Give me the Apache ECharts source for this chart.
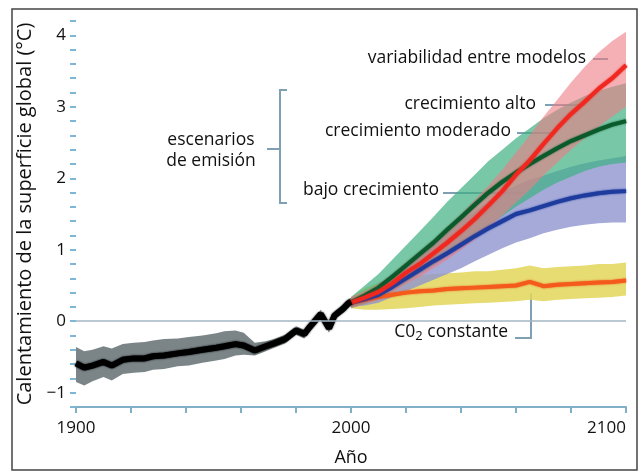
<!DOCTYPE html>
<html>
<head>
<meta charset="utf-8">
<script src="https://cdn.jsdelivr.net/npm/echarts@6/dist/echarts.min.js"></script>
<style>
  html, body { margin: 0; padding: 0; background: #fff; }
  #chart { width: 639px; height: 472px; }
</style>
</head>
<body>
<div id="chart"></div>
<script>
// observaciones 1900-2000
var histYears = [1900, 1903, 1906, 1910, 1913, 1917, 1921, 1925, 1928, 1932, 1937, 1941, 1946, 1951, 1954, 1958, 1961, 1965, 1969, 1972, 1976, 1980, 1983, 1985, 1987, 1989, 1992, 1994, 1997, 1999, 2000];
var histMean  = [-0.59, -0.65, -0.62, -0.57, -0.62, -0.54, -0.52, -0.52, -0.49, -0.48, -0.45, -0.43, -0.40, -0.37, -0.35, -0.32, -0.34, -0.41, -0.35, -0.31, -0.25, -0.13, -0.18, -0.08, 0.01, 0.10, -0.10, 0.08, 0.17, 0.25, 0.27];
var histHigh  = [-0.36, -0.42, -0.40, -0.35, -0.38, -0.32, -0.30, -0.29, -0.27, -0.25, -0.24, -0.22, -0.20, -0.17, -0.14, -0.13, -0.16, -0.30, -0.28, -0.25, -0.19, -0.07, -0.12, -0.02, 0.07, 0.16, -0.04, 0.14, 0.23, 0.31, 0.33];
var histLow   = [-0.85, -0.90, -0.84, -0.78, -0.83, -0.74, -0.72, -0.71, -0.68, -0.67, -0.63, -0.62, -0.58, -0.55, -0.53, -0.48, -0.47, -0.48, -0.42, -0.37, -0.31, -0.19, -0.24, -0.14, -0.05, 0.04, -0.16, 0.02, 0.11, 0.19, 0.21];

// escenarios 2000-2100
var scenYears = [2000, 2005, 2010, 2015, 2020, 2025, 2030, 2035, 2040, 2045, 2050, 2055, 2060, 2065, 2070, 2075, 2080, 2085, 2090, 2095, 2100];

var altoMean  = [0.26, 0.33, 0.41, 0.53, 0.68, 0.80, 0.95, 1.10, 1.26, 1.43, 1.62, 1.82, 2.05, 2.25, 2.48, 2.70, 2.90, 3.07, 3.25, 3.40, 3.58];
var altoLow   = [0.18, 0.24, 0.30, 0.40, 0.52, 0.62, 0.74, 0.86, 1.00, 1.14, 1.30, 1.48, 1.66, 1.84, 2.04, 2.22, 2.40, 2.56, 2.72, 2.86, 3.00];
var altoHigh  = [0.34, 0.42, 0.52, 0.66, 0.82, 0.98, 1.14, 1.32, 1.50, 1.70, 1.90, 2.12, 2.36, 2.60, 2.86, 3.10, 3.34, 3.56, 3.76, 3.92, 4.05];

var modMean   = [0.26, 0.36, 0.47, 0.62, 0.78, 0.94, 1.10, 1.28, 1.45, 1.63, 1.80, 1.95, 2.08, 2.20, 2.31, 2.42, 2.52, 2.60, 2.68, 2.75, 2.80];
var modLow    = [0.18, 0.24, 0.32, 0.42, 0.54, 0.66, 0.78, 0.92, 1.06, 1.20, 1.34, 1.47, 1.60, 1.72, 1.84, 1.94, 2.02, 2.10, 2.16, 2.20, 2.22];
var modHigh   = [0.34, 0.50, 0.66, 0.86, 1.06, 1.26, 1.46, 1.67, 1.86, 2.05, 2.24, 2.40, 2.56, 2.70, 2.84, 2.96, 3.06, 3.15, 3.22, 3.28, 3.33];

var bajoMean  = [0.26, 0.31, 0.37, 0.48, 0.60, 0.72, 0.84, 0.95, 1.07, 1.19, 1.30, 1.40, 1.50, 1.55, 1.61, 1.67, 1.72, 1.76, 1.79, 1.81, 1.82];
var bajoLow   = [0.20, 0.22, 0.26, 0.34, 0.42, 0.50, 0.58, 0.66, 0.74, 0.84, 0.93, 1.02, 1.10, 1.16, 1.23, 1.28, 1.32, 1.35, 1.37, 1.38, 1.38];
var bajoHigh  = [0.32, 0.40, 0.48, 0.62, 0.78, 0.94, 1.10, 1.24, 1.40, 1.54, 1.68, 1.80, 1.90, 1.98, 2.04, 2.10, 2.16, 2.21, 2.25, 2.28, 2.31];

var co2Mean   = [0.26, 0.30, 0.34, 0.37, 0.40, 0.42, 0.43, 0.45, 0.46, 0.47, 0.48, 0.49, 0.50, 0.55, 0.49, 0.51, 0.52, 0.53, 0.54, 0.55, 0.57];
var co2Low    = [0.18, 0.16, 0.16, 0.17, 0.18, 0.20, 0.22, 0.23, 0.24, 0.25, 0.26, 0.27, 0.28, 0.30, 0.28, 0.30, 0.31, 0.32, 0.33, 0.34, 0.36];
var co2High   = [0.34, 0.46, 0.54, 0.60, 0.62, 0.64, 0.66, 0.67, 0.68, 0.70, 0.70, 0.72, 0.74, 0.78, 0.74, 0.76, 0.77, 0.78, 0.80, 0.80, 0.82];

var xLabels = [1900, 2000, 2100];
var yLabels = [-1, 0, 1, 2, 3, 4];

var FONT = '"Open Sans"';
var LEADER = '#7f9fb2';

function pairs(xs, ys) {
    var out = [];
    for (var i = 0; i < xs.length; i++) {
        out.push([xs[i], ys[i]]);
    }
    return out;
}

// banda de variabilidad como un poligono sobre los ejes
function band(xs, low, high, color, opacity) {
    var data = [];
    for (var i = 0; i < xs.length; i++) {
        data.push([xs[i], low[i], high[i]]);
    }
    return {
        type: 'custom', silent: true,
        encode: { x: 0, y: [1, 2] },
        data: data,
        renderItem: function (params, api) {
            if (params.dataIndex !== 0) return null;
            var pts = [];
            for (var i = 0; i < data.length; i++) {
                pts.push(api.coord([data[i][0], data[i][2]]));
            }
            for (var j = data.length - 1; j >= 0; j--) {
                pts.push(api.coord([data[j][0], data[j][1]]));
            }
            return {
                type: 'polygon',
                shape: { points: pts },
                style: { fill: color, opacity: opacity }
            };
        }
    };
}

function meanLine(xs, ys, color, width) {
    return {
        type: 'line', silent: true, symbol: 'none',
        lineStyle: { color: color, width: width, shadowBlur: 2, shadowColor: color },
        data: pairs(xs, ys)
    };
}

function txt(x, y, s, align) {
    return {
        type: 'text', x: x, y: y, silent: true,
        style: { text: s, font: '17.5px ' + FONT, fill: '#111', textAlign: align || 'left', textVerticalAlign: 'middle' }
    };
}

function seg(points) {
    return {
        type: 'polyline', silent: true,
        shape: { points: points },
        style: { stroke: LEADER, lineWidth: 2, fill: null }
    };
}

var myChart = echarts.init(document.getElementById('chart'));

var series = [
    band(scenYears, co2Low, co2High, '#e2d659', 0.85),
    band(scenYears, bajoLow, bajoHigh, '#8f95d0', 0.8),
    band(scenYears, modLow, modHigh, '#3fb083', 0.7),
    band(scenYears, altoLow, altoHigh, '#ee7c86', 0.6),
    band(histYears, histLow, histHigh, '#7b8588', 1),
    {
        type: 'line', silent: true, symbol: 'none', data: [],
        markLine: {
            silent: true, symbol: 'none', label: { show: false },
            lineStyle: { color: '#a3b6c2', width: 1.5, type: 'solid' },
            data: [{ yAxis: 0 }]
        }
    },
    meanLine(scenYears, co2Mean, '#f35a1c', 4),
    meanLine(scenYears, bajoMean, '#1e3c9e', 4),
    meanLine(scenYears, modMean, '#0b5a2c', 4),
    meanLine(scenYears, altoMean, '#f0281f', 4),
    meanLine(histYears, histMean, '#000000', 6)
];

option = {
    animation: false,
    backgroundColor: '#fff',
    grid: {
        left: 76,
        right: 13,
        top: 21,
        bottom: 63
    },
    xAxis: {
        type: 'value',
        min: 1900,
        max: 2100,
        interval: 20,
        name: 'Año',
        nameLocation: 'middle',
        nameGap: 42,
        nameTextStyle: { fontFamily: FONT, fontSize: 18, color: '#111' },
        axisLine: { show: true, onZero: false, lineStyle: { color: '#80b0c8', width: 2 } },
        axisTick: { show: true, length: 6, lineStyle: { color: '#80b0c8', width: 2 } },
        axisLabel: {
            margin: 13,
            fontFamily: FONT, fontSize: 17, color: '#111',
            alignMaxLabel: 'right',
            formatter: function (v) {
                return xLabels.indexOf(v) >= 0 ? String(v) : '';
            }
        },
        splitLine: { show: false }
    },
    yAxis: {
        type: 'value',
        min: -1.2,
        max: 4.2,
        interval: 0.2,
        name: 'Calentamiento de la superficie global (°C)',
        nameLocation: 'middle',
        nameRotate: 90,
        nameGap: 34,
        nameTextStyle: { fontFamily: FONT, fontSize: 20, color: '#111' },
        axisLine: { show: false },
        axisTick: { show: true, length: 6, lineStyle: { color: '#7fb8d4', width: 2 } },
        axisLabel: {
            margin: 10,
            fontFamily: FONT, fontSize: 17, color: '#111',
            formatter: function (v) {
                var r = Math.round(v);
                if (Math.abs(v - r) > 1e-6 || yLabels.indexOf(r) < 0) return '';
                return r < 0 ? '\u2212' + (-r) : String(r);
            }
        },
        splitLine: { show: false }
    },
    graphic: [
        {
            type: 'rect', silent: true, z: 100,
            shape: { x: 12, y: 9, width: 625, height: 461 },
            style: { fill: null, stroke: '#444', lineWidth: 1.5 }
        },
        // corchete de escenarios
        seg([[287, 90], [280, 90], [280, 203], [287, 203]]),
        seg([[267, 149], [280, 149]]),
        txt(211, 140, 'escenarios', 'center'),
        txt(211, 161, 'de emisión', 'center'),
        // etiquetas de escenarios
        txt(586, 58, 'variabilidad entre modelos', 'right'),
        seg([[593, 59], [608, 59]]),
        txt(536, 104, 'crecimiento alto', 'right'),
        seg([[545, 105], [585, 105]]),
        txt(511, 131, 'crecimiento moderado', 'right'),
        seg([[517, 133], [556, 133]]),
        txt(439, 190, 'bajo crecimiento', 'right'),
        seg([[443, 193], [525, 193]]),
        {
            type: 'text', x: 508, y: 332, silent: true,
            style: {
                text: 'C0{sub|2} constante',
                font: '17.5px ' + FONT, fill: '#111',
                textAlign: 'right', textVerticalAlign: 'middle',
                rich: { sub: { fontFamily: FONT, fontSize: 13, padding: [9, 0, 0, 0], fill: '#111' } }
            }
        },
        seg([[515, 338], [531, 338], [531, 293]])
    ],
    series: series
};

myChart.setOption(option);
</script>
</body>
</html>
